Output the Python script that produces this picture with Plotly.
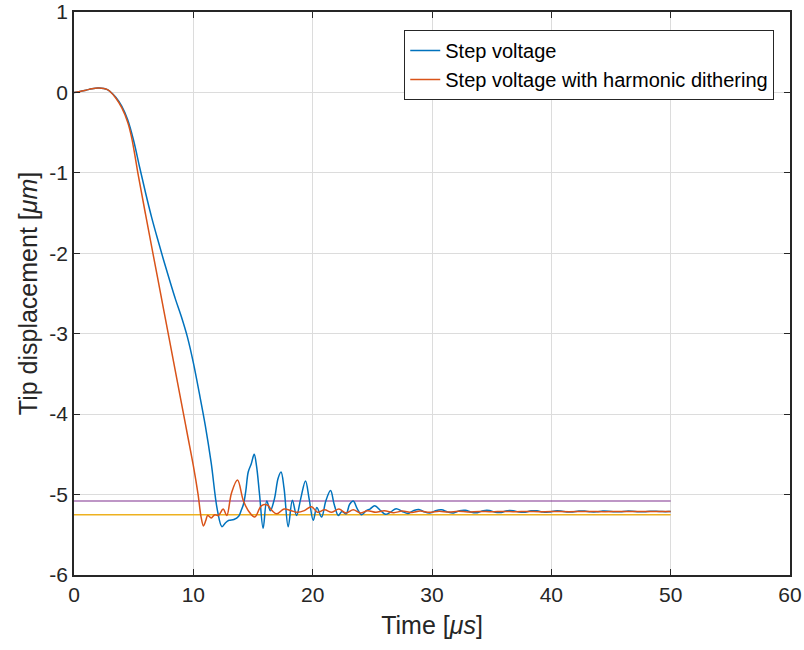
import plotly.graph_objects as go

# Step voltage response
t_step = [0, 0.5, 1.0, 1.5, 2.0, 2.5, 2.8, 3.0, 3.5, 4.0, 4.5, 5.0, 5.5,
          6.0, 6.5, 7.0, 7.5, 8.0, 8.5, 9.0, 9.5, 10.0, 10.5, 11.0, 11.5, 12.0,
          12.4, 12.7, 13.0, 13.4, 13.8, 14.0, 14.2, 14.4, 14.6, 14.85, 15.1, 15.3,
          15.55, 15.85, 16.15, 16.45, 16.8, 17.1, 17.35, 17.6, 17.95, 18.3,
          18.65, 19.0, 19.4, 19.7, 20.05, 20.35, 20.75, 21.1, 21.5, 21.8,
          22.15, 22.45, 22.8, 23.1, 23.4, 23.75, 24.1, 24.5, 24.8, 25.2, 25.7,
          26.1, 26.5, 27.0, 27.5, 28.0, 28.45, 28.9, 29.35, 29.8, 30.3, 30.8,
          31.3, 31.8, 32.3, 32.8, 33.3, 33.8, 34.3, 34.8, 35.3, 35.8, 36.3,
          36.8, 37.3, 37.8, 38.3, 38.8, 39.3, 39.8, 40.3, 40.8, 41.3, 41.8,
          42.3, 42.8, 43.3, 43.8, 44.3, 44.8, 45.3, 45.8, 46.3, 46.8, 47.3,
          47.8, 48.3, 48.8, 49.3, 49.8, 50.0]
y_step = [0, 0.012, 0.028, 0.045, 0.055, 0.05, 0.035, 0.015, -0.06, -0.17, -0.34, -0.60, -0.93,
          -1.25, -1.55, -1.82, -2.08, -2.33, -2.57, -2.79, -3.04, -3.36, -3.74, -4.14, -4.61, -5.18,
          -5.40, -5.35, -5.32, -5.31, -5.27, -5.20, -5.12, -4.95, -4.72, -4.62, -4.50, -4.65,
          -5.00, -5.42, -5.08, -5.20, -5.05, -4.80, -4.72, -4.92, -5.40, -5.07,
          -5.26, -5.05, -4.83, -5.05, -5.32, -5.16, -5.28, -5.08, -4.95, -5.12,
          -5.26, -5.21, -5.24, -5.12, -5.08, -5.18, -5.25, -5.20, -5.18, -5.14, -5.20,
          -5.245, -5.22, -5.175, -5.21, -5.235, -5.20, -5.185, -5.215, -5.23, -5.20, -5.19,
          -5.215, -5.228, -5.20, -5.195, -5.22, -5.225, -5.20, -5.198, -5.22, -5.222, -5.20,
          -5.20, -5.218, -5.22, -5.202, -5.202, -5.217, -5.218, -5.203, -5.204, -5.216, -5.216,
          -5.204, -5.205, -5.215, -5.215, -5.205, -5.206, -5.214, -5.214, -5.206, -5.207, -5.213,
          -5.213, -5.207, -5.208, -5.212, -5.212, -5.21]

# Step voltage with harmonic dithering
t_dith = [0, 0.5, 1.0, 1.5, 2.0, 2.5, 2.8, 3.0, 3.5, 4.0, 4.5, 4.8, 5.1, 5.35,
          6.0, 7.0, 8.0, 9.0, 9.5, 10.0, 10.4, 10.65, 10.85, 11.05, 11.2, 11.5,
          11.8, 12.1, 12.5, 12.8, 13.2, 13.7, 14.2, 14.7, 15.15, 15.7, 16.2,
          16.6, 17.0, 17.6, 18.2, 18.7, 19.3, 19.9, 20.4, 21.0, 21.6, 22.2,
          22.8, 23.4, 24.0, 24.6, 25.3, 26.0, 26.8, 27.5, 28.3, 29.0, 29.8,
          30.6, 31.4, 32.2, 33.0, 34.0, 35.0, 36.0, 37.0, 38.0, 39.0, 40.0,
          41.5, 43.0, 44.5, 46.0, 47.5, 49.0, 50.0]
y_dith = [0, 0.012, 0.028, 0.045, 0.055, 0.05, 0.035, 0.015, -0.07, -0.19, -0.37, -0.54, -0.78, -1.0,
          -1.52, -2.30, -3.08, -3.86, -4.25, -4.64, -5.0, -5.28, -5.39, -5.32, -5.26, -5.29,
          -5.25, -5.26, -5.18, -5.26, -4.98, -4.82, -5.08, -5.22, -5.28, -5.14, -5.13,
          -5.20, -5.24, -5.18, -5.20, -5.22, -5.20, -5.15, -5.22, -5.19, -5.22, -5.18,
          -5.23, -5.19, -5.23, -5.20, -5.22, -5.20, -5.225, -5.205, -5.222, -5.205, -5.22,
          -5.207, -5.218, -5.208, -5.216, -5.209, -5.215, -5.209, -5.214, -5.21, -5.214, -5.21,
          -5.213, -5.21, -5.213, -5.21, -5.212, -5.21, -5.211]

# reference levels
ref_x = [0, 50]
ref_upper = [-5.08, -5.08]
ref_lower = [-5.25, -5.25]

x_ticks = [0, 10, 20, 30, 40, 50, 60]
y_ticks = [1, 0, -1, -2, -3, -4, -5, -6]
y_ticklabels = ['1', '0', '-1', '-2', '-3', '-4', '-5', '-6']

fig = go.Figure()
fig.add_trace(go.Scatter(x=ref_x, y=ref_upper, mode='lines', showlegend=False,
                         line=dict(color='#7E2F8E', width=1.2)))
fig.add_trace(go.Scatter(x=ref_x, y=ref_lower, mode='lines', showlegend=False,
                         line=dict(color='#EDB120', width=1.4)))
fig.add_trace(go.Scatter(x=t_step, y=y_step, mode='lines', name='Step voltage',
                         line=dict(color='#0072BD', width=1.5, shape='spline', smoothing=1.0)))
fig.add_trace(go.Scatter(x=t_dith, y=y_dith, mode='lines',
                         name='Step voltage with harmonic dithering',
                         line=dict(color='#D95319', width=1.5, shape='spline', smoothing=1.0)))

axis_common = dict(
    showline=True, linecolor='#262626', linewidth=1.5, mirror='allticks',
    ticks='inside', ticklen=6, tickcolor='#262626',
    showgrid=True, gridcolor='#dcdcdc', gridwidth=1, zeroline=False,
    tickfont=dict(size=21, color='#262626'), automargin=False,
)

fig.update_layout(
    width=804, height=650,
    margin=dict(l=74, r=14, t=12, b=75),
    paper_bgcolor='white', plot_bgcolor='white',
    font=dict(family='Liberation Sans, Arial, sans-serif', color='#262626'),
    xaxis=dict(range=[0, 60], tickvals=x_ticks,
               title=dict(text='Time [<i>μs</i>]', font=dict(size=25), standoff=12),
               **axis_common),
    yaxis=dict(range=[-6, 1], tickvals=y_ticks, ticktext=y_ticklabels,
               title=dict(text='Tip displacement [<i>μm</i>]', font=dict(size=25), standoff=5),
               **axis_common),
    legend=dict(x=0.978, y=0.968, xanchor='right', yanchor='top',
                bgcolor='white', bordercolor='#262626', borderwidth=1,
                font=dict(size=20, color='black'), tracegroupgap=0),
    showlegend=True,
)

# drop the default 8px page margin so the figure fills the window exactly
fig.write_html("out.html", config={'displayModeBar': False},
               post_script="document.body.style.margin='0';document.body.style.overflow='hidden';")
